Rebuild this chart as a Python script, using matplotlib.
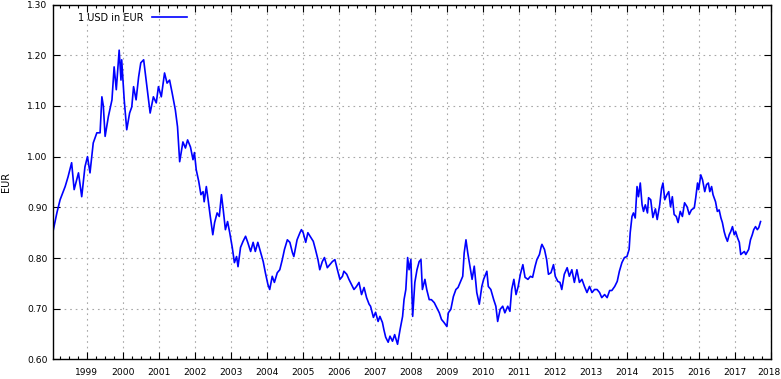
import numpy as np
from matplotlib import pyplot as plt
from matplotlib import transforms
from matplotlib.ticker import FixedLocator, MultipleLocator

# USD -> EUR rate (decimal year, value)
dates = [
    1999.07, 1999.17, 1999.26, 1999.40, 1999.48, 1999.58, 1999.65, 1999.77, 1999.86, 1999.95,
    2000.02, 2000.09, 2000.18, 2000.28, 2000.37, 2000.42, 2000.46, 2000.51, 2000.60, 2000.70,
    2000.76, 2000.82, 2000.90, 2000.95, 2000.97, 2001.04, 2001.11, 2001.19, 2001.25, 2001.30,
    2001.37, 2001.44, 2001.50, 2001.58, 2001.67, 2001.76, 2001.85, 2001.93, 2001.99, 2002.07,
    2002.16, 2002.23, 2002.30, 2002.37, 2002.46, 2002.52, 2002.58, 2002.67, 2002.74, 2002.80,
    2002.88, 2002.95, 2002.99, 2003.04, 2003.11, 2003.17, 2003.23, 2003.26, 2003.32, 2003.37,
    2003.43, 2003.50, 2003.55, 2003.62, 2003.68, 2003.74, 2003.79, 2003.85, 2003.91, 2003.97,
    2004.04, 2004.10, 2004.16, 2004.20, 2004.27, 2004.34, 2004.41, 2004.47, 2004.55, 2004.62,
    2004.68, 2004.75, 2004.82, 2004.90, 2004.96, 2005.03, 2005.08, 2005.15, 2005.21, 2005.29,
    2005.36, 2005.43, 2005.49, 2005.57, 2005.64, 2005.71, 2005.75, 2005.84, 2005.92, 2005.96,
    2006.01, 2006.08, 2006.14, 2006.21, 2006.29, 2006.35, 2006.42, 2006.47, 2006.54, 2006.60,
    2006.68, 2006.75, 2006.82, 2006.89, 2006.96, 2007.03, 2007.10, 2007.14, 2007.22, 2007.28,
    2007.35, 2007.42, 2007.49, 2007.56, 2007.63, 2007.70, 2007.77, 2007.84, 2007.88, 2007.96,
    2008.02, 2008.09, 2008.14, 2008.21, 2008.25, 2008.30, 2008.37, 2008.42, 2008.49, 2008.55,
    2008.63, 2008.70, 2008.77, 2008.81, 2008.86, 2008.91, 2008.95, 2009.00, 2009.05, 2009.11,
    2009.17, 2009.23, 2009.28, 2009.32, 2009.39, 2009.44, 2009.51, 2009.57, 2009.65, 2009.72,
    2009.79, 2009.85, 2009.92, 2010.00, 2010.04, 2010.11, 2010.18, 2010.25, 2010.31, 2010.37,
    2010.44, 2010.48, 2010.53, 2010.58, 2010.64, 2010.70, 2010.76, 2010.83, 2010.90, 2010.97,
    2011.02, 2011.11, 2011.15, 2011.22, 2011.30, 2011.36, 2011.41, 2011.48, 2011.55, 2011.61,
    2011.69, 2011.75, 2011.80, 2011.86, 2011.92, 2011.98, 2012.04, 2012.11, 2012.17, 2012.25,
    2012.32, 2012.38, 2012.45, 2012.50, 2012.57, 2012.62, 2012.64, 2012.71, 2012.77, 2012.82,
    2012.89, 2012.96, 2013.01, 2013.08, 2013.14, 2013.19, 2013.26, 2013.34, 2013.40, 2013.47,
    2013.54, 2013.61, 2013.68, 2013.75, 2013.82, 2013.89, 2013.96, 2014.03, 2014.10, 2014.17,
    2014.24, 2014.30, 2014.38, 2014.45, 2014.52, 2014.58, 2014.66, 2014.73, 2014.79, 2014.86,
    2014.93, 2015.00, 2015.06, 2015.09, 2015.14, 2015.18, 2015.23, 2015.28, 2015.32, 2015.37,
    2015.42, 2015.46, 2015.51, 2015.57, 2015.60, 2015.66, 2015.72, 2015.79, 2015.84, 2015.91,
    2015.96, 2016.00, 2016.05, 2016.11, 2016.16, 2016.21, 2016.26, 2016.31, 2016.37, 2016.42,
    2016.48, 2016.54, 2016.60, 2016.67, 2016.73, 2016.79, 2016.87, 2016.91, 2016.96, 2016.99,
    2017.05, 2017.10, 2017.16, 2017.21, 2017.26, 2017.30, 2017.35, 2017.39, 2017.46, 2017.51,
    2017.56, 2017.61, 2017.65, 2017.70, 2017.74, 2017.79, 2017.84, 2017.88, 2017.93, 2017.98,
    2018.02, 2018.07, 2018.12, 2018.16, 2018.21, 2018.26, 2018.30, 2018.35, 2018.38, 2018.43,
    2018.48, 2018.52, 2018.57, 2018.62, 2018.66, 2018.71,
]
usd_eur = [
    0.855, 0.889, 0.915, 0.941, 0.960, 0.988, 0.935, 0.968, 0.921, 0.980,
    1.000, 0.968, 1.027, 1.047, 1.047, 1.118, 1.100, 1.040, 1.079, 1.112,
    1.177, 1.132, 1.210, 1.151, 1.191, 1.112, 1.053, 1.086, 1.098, 1.138,
    1.112, 1.157, 1.185, 1.191, 1.138, 1.086, 1.118, 1.106, 1.138, 1.118,
    1.165, 1.145, 1.151, 1.126, 1.092, 1.059, 0.990, 1.029, 1.017, 1.033,
    1.019, 0.994, 1.008, 0.974, 0.951, 0.925, 0.931, 0.911, 0.941, 0.915,
    0.882, 0.846, 0.870, 0.889, 0.882, 0.925, 0.895, 0.856, 0.872, 0.850,
    0.821, 0.791, 0.803, 0.783, 0.821, 0.833, 0.843, 0.831, 0.813, 0.831,
    0.813, 0.831, 0.813, 0.793, 0.771, 0.748, 0.738, 0.764, 0.752, 0.771,
    0.777, 0.797, 0.817, 0.836, 0.831, 0.811, 0.803, 0.836, 0.850, 0.856,
    0.850, 0.831, 0.850, 0.842, 0.833, 0.817, 0.797, 0.777, 0.793, 0.801,
    0.781, 0.787, 0.793, 0.797, 0.777, 0.758, 0.764, 0.774, 0.768, 0.758,
    0.748, 0.738, 0.744, 0.752, 0.728, 0.742, 0.722, 0.709, 0.705, 0.683,
    0.693, 0.675, 0.685, 0.673, 0.659, 0.644, 0.634, 0.646, 0.636, 0.649,
    0.630, 0.659, 0.685, 0.718, 0.738, 0.801, 0.777, 0.797, 0.685, 0.752,
    0.777, 0.793, 0.797, 0.738, 0.758, 0.738, 0.718, 0.718, 0.712, 0.702,
    0.692, 0.679, 0.673, 0.665, 0.692, 0.699, 0.724, 0.738, 0.742, 0.752,
    0.764, 0.810, 0.836, 0.810, 0.784, 0.758, 0.784, 0.732, 0.709, 0.744,
    0.758, 0.774, 0.744, 0.738, 0.718, 0.705, 0.675, 0.699, 0.705, 0.692,
    0.705, 0.695, 0.738, 0.758, 0.728, 0.744, 0.768, 0.787, 0.762, 0.758,
    0.764, 0.762, 0.784, 0.797, 0.807, 0.823, 0.827, 0.817, 0.797, 0.768,
    0.771, 0.787, 0.764, 0.754, 0.752, 0.738, 0.768, 0.781, 0.764, 0.777,
    0.752, 0.777, 0.752, 0.758, 0.744, 0.732, 0.744, 0.732, 0.738, 0.738,
    0.732, 0.722, 0.728, 0.722, 0.736, 0.736, 0.744, 0.754, 0.774, 0.791,
    0.801, 0.803, 0.817, 0.850, 0.882, 0.889, 0.879, 0.941, 0.921, 0.948,
    0.905, 0.892, 0.905, 0.889, 0.919, 0.915, 0.880, 0.897, 0.876, 0.905,
    0.937, 0.948, 0.915, 0.925, 0.931, 0.901, 0.921, 0.886, 0.882, 0.870,
    0.892, 0.882, 0.909, 0.901, 0.886, 0.895, 0.899, 0.919, 0.948, 0.935,
    0.964, 0.954, 0.931, 0.945, 0.948, 0.931, 0.941, 0.925, 0.911, 0.892,
    0.895, 0.879, 0.870, 0.852, 0.842, 0.833, 0.846, 0.852, 0.862, 0.846,
    0.852, 0.840, 0.831, 0.807, 0.810, 0.813, 0.807, 0.813, 0.817, 0.836,
    0.846, 0.856, 0.862, 0.856, 0.860, 0.872,
]

# the reference puts each year label on the January that follows it
tick_pos = list(range(2000, 2020))
tick_labels = [str(y) for y in range(1999, 2019)]

plt.rcParams['font.family'] = 'DejaVu Sans'
plt.rcParams['font.size'] = 7

fig = plt.figure(figsize=(7.81, 3.79), dpi=100)
ax = fig.add_axes([0.0682, 0.0515, 0.9190, 0.9366])

ax.plot(dates, usd_eur, color='#0000ff', lw=1.2, label='1 USD in EUR')

ax.set_xlim(1999.07, 2019.0)
ax.set_ylim(0.60, 1.30)

ax.xaxis.set_major_locator(FixedLocator(tick_pos))
ax.set_xticklabels(tick_labels)
ax.xaxis.set_minor_locator(MultipleLocator(0.25))
ax.yaxis.set_major_locator(MultipleLocator(0.1))
ax.yaxis.set_major_formatter(plt.FormatStrFormatter('%.2f'))

ax.tick_params(which='both', direction='in', top=True, right=True, color='black')
ax.tick_params(which='major', length=5, width=0.8, labelsize=6.6)
ax.tick_params(which='minor', length=2.5, width=0.8)
ax.tick_params(axis='x', which='major', pad=6)
ax.tick_params(axis='y', which='major', pad=4)

# keep the last year label inside the picture
last = ax.get_xticklabels()[-1]
last.set_transform(last.get_transform() +
                   transforms.ScaledTranslation(-2 / 100, 0, fig.dpi_scale_trans))

ax.grid(True, which='major', color='#a8a8a8', lw=0.8, linestyle=(0, (1.5, 3.5)))
for s in ax.spines.values():
    s.set_linewidth(1.0)
    s.set_color('black')

ax.set_ylabel('EUR')
ax.yaxis.set_label_coords(-0.059, 0.5)

ax.legend(loc='upper left', bbox_to_anchor=(0.034, 0.977), frameon=False,
          markerfirst=False, handlelength=3.6, handletextpad=0.9,
          borderpad=0, borderaxespad=0)

plt.savefig('out.png', dpi=100)
